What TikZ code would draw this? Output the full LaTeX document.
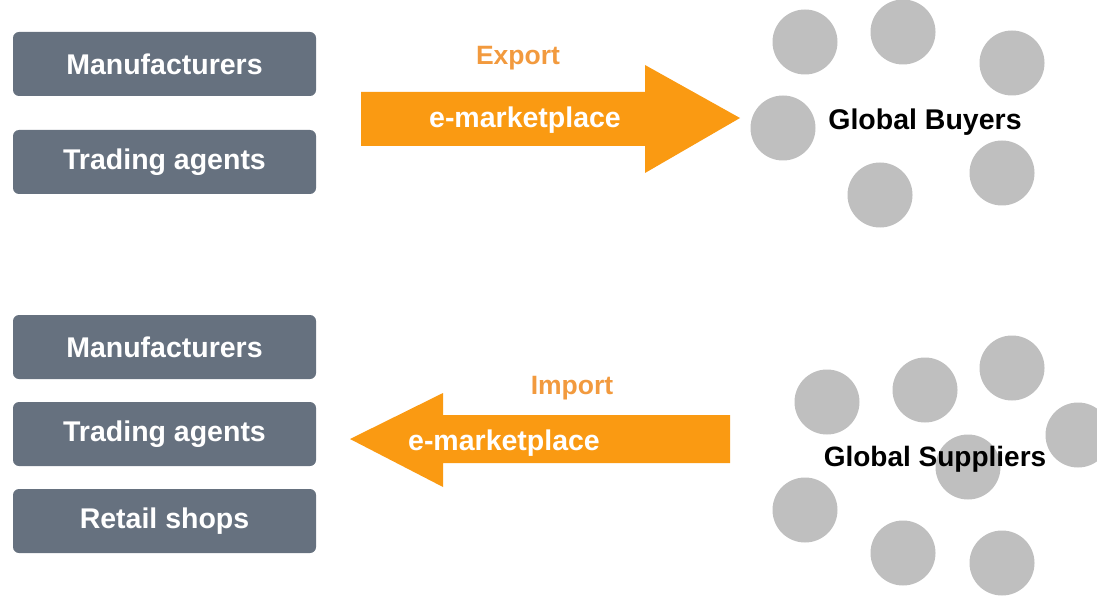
\documentclass[tikz,border=0pt]{standalone}
\usepackage{fontspec}
\setmainfont{Liberation Sans}
\definecolor{boxgray}{HTML}{66717F}
\definecolor{dotgray}{HTML}{BFBFBF}
\definecolor{arrorange}{HTML}{FA9A12}
\definecolor{txtorange}{HTML}{F29A3E}
\begin{document}
\begin{tikzpicture}[x=1pt,y=-1pt,
  actor/.style={fill=boxgray, rounded corners=6pt, minimum width=303pt, minimum height=64pt, inner sep=0pt,
    text=white, font=\fontsize{28.5}{31}\selectfont\bfseries},
  dot/.style={circle, fill=dotgray, minimum size=65pt, inner sep=0pt},
  lbl/.style={font=\fontsize{28.5}{31}\selectfont\bfseries},
  tag/.style={font=\fontsize{26.5}{29}\selectfont\bfseries, text=txtorange},
  arrowshape/.style={fill=arrorange}
]
\useasboundingbox (0,0) rectangle (1097,596);
% left boxes
\node[actor] (m1) at (164.5,64) {Manufacturers};
\node[actor] (t1) at (164.5,162) {Trading agents};
\node[actor] (m2) at (164.5,347) {Manufacturers};
\node[actor] (t2) at (164.5,434) {Trading agents};
\node[actor] (r2) at (164.5,521) {Retail shops};
% export arrow
\fill[arrowshape] (361,92) -- (645,92) -- (645,65) -- (740,118) -- (645,173) -- (645,146) -- (361,146) -- cycle;
\node[tag] (exp) at (518,58) {Export};
\node[lbl, text=white] (em1) at (525,120) {e-marketplace};
% import arrow
\fill[arrowshape] (730,415) -- (443,415) -- (443,393) -- (350,439) -- (443,487) -- (443,463) -- (730,463) -- cycle;
\node[tag] (imp) at (572,388) {Import};
\node[lbl, text=white] (em2) at (504,443) {e-marketplace};
% buyers
\node[dot] (b1) at (805,42) {};
\node[dot] (b2) at (903,32) {};
\node[dot] (b3) at (1012,63) {};
\node[dot] (b4) at (783,128) {};
\node[dot] (b5) at (880,195) {};
\node[dot] (b6) at (1002,173) {};
\node[lbl, text=black] (gb) at (925,122) {Global Buyers};
% suppliers
\node[dot] (s1) at (827,402) {};
\node[dot] (s2) at (925,390) {};
\node[dot] (s3) at (1012,368) {};
\node[dot] (s4) at (1078,435) {};
\node[dot] (s5) at (968,467) {};
\node[dot] (s6) at (805,510) {};
\node[dot] (s7) at (903,553) {};
\node[dot] (s8) at (1002,563) {};
\node[lbl, text=black, font=\fontsize{28}{31}\selectfont\bfseries] (gs) at (935,459) {Global Suppliers};
\end{tikzpicture}
\end{document}
